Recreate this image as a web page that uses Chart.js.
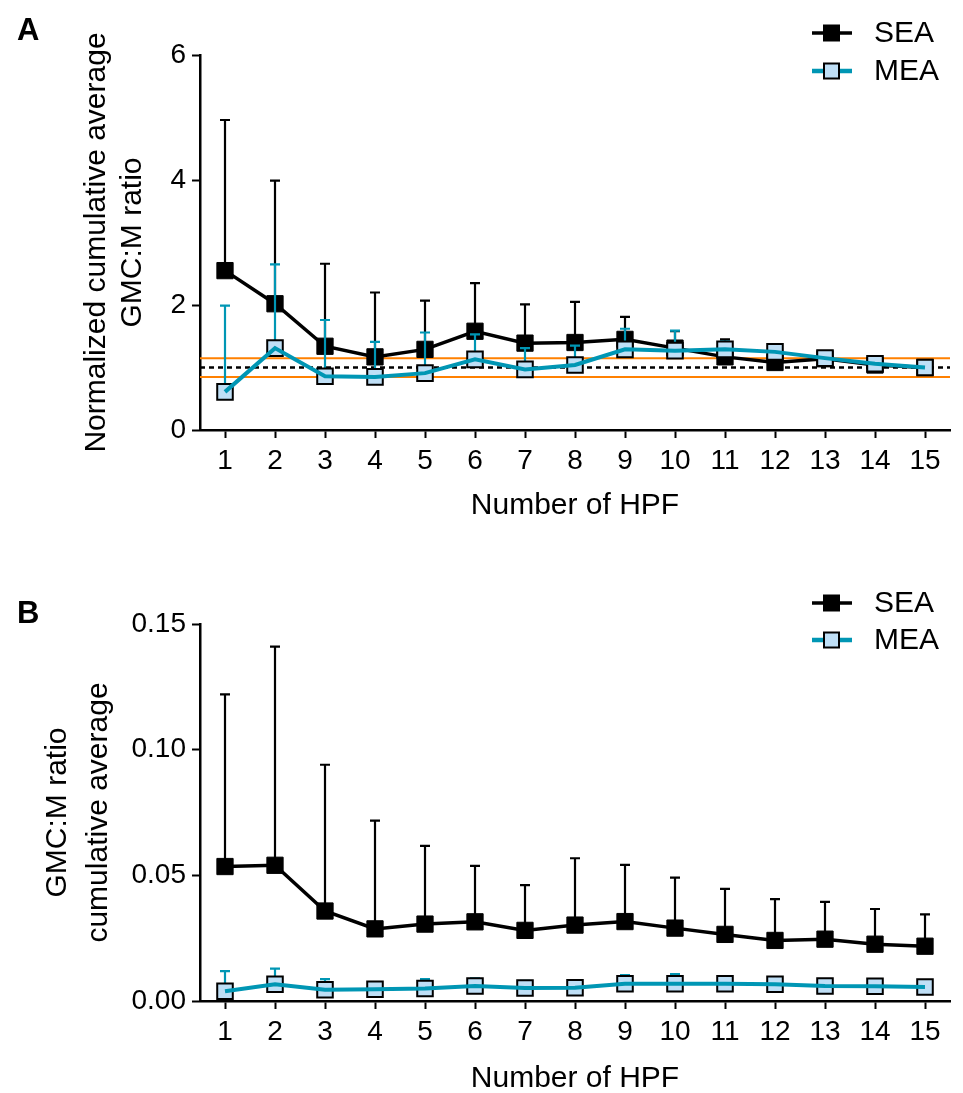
<!DOCTYPE html>
<html>
<head>
<meta charset="utf-8">
<script src="https://cdn.jsdelivr.net/npm/chart.js@4.4.0/dist/chart.umd.min.js"></script>
<style>
  html, body { margin: 0; padding: 0; background: #fff; overflow: hidden; }
  .panel { position: absolute; left: 0; width: 963px; }
  #panelA { top: 0; height: 540px; }
  #panelB { top: 540px; height: 570px; }
</style>
</head>
<body>
<div class="panel" id="panelA"><canvas id="chartA"></canvas></div>
<div class="panel" id="panelB"><canvas id="chartB"></canvas></div>
<script>
// x categories: number of high power fields
const hpf = [1, 2, 3, 4, 5, 6, 7, 8, 9, 10, 11, 12, 13, 14, 15];

// panel A: normalized cumulative average (mean and mean + SD)
const seaA      = [2.55, 2.02, 1.34, 1.17, 1.29, 1.58, 1.39, 1.40, 1.45, 1.31, 1.17, 1.08, 1.14, 1.04, 1.00];
const seaAUpper = [4.96, 3.99, 2.66, 2.20, 2.07, 2.35, 2.01, 2.05, 1.81, 1.58, 1.45, 1.12, 1.17, 1.06, 1.00];
const meaA      = [0.61, 1.31, 0.86, 0.85, 0.91, 1.13, 0.97, 1.04, 1.29, 1.27, 1.29, 1.25, 1.15, 1.06, 1.00];
const meaAUpper = [1.99, 2.65, 1.76, 1.41, 1.56, 1.53, 1.31, 1.35, 1.62, 1.59, 1.42, 1.33, 1.23, 1.09, 1.00];
const orangeLines = [0.85, 1.15];
const dashedLines = [1.0];

// panel B: cumulative average GMC:M ratio (mean and mean + SD)
const seaB      = [0.0535, 0.0540, 0.0358, 0.0287, 0.0306, 0.0315, 0.0281, 0.0302, 0.0316, 0.0290, 0.0265, 0.0241, 0.0246, 0.0226, 0.0218];
const seaBUpper = [0.122, 0.141, 0.094, 0.0718, 0.0617, 0.0538, 0.0461, 0.0568, 0.0542, 0.0491, 0.0446, 0.0405, 0.0394, 0.0366, 0.0345];
const meaB      = [0.0039, 0.0067, 0.0045, 0.0047, 0.0050, 0.0060, 0.0052, 0.0053, 0.0069, 0.0069, 0.0069, 0.0067, 0.0060, 0.0059, 0.0056];
const meaBUpper = [0.0119, 0.0129, 0.0087, 0.0073, 0.0087, 0.0090, 0.0080, 0.0083, 0.0103, 0.0107, 0.0099, 0.0090, 0.0087, 0.0076, 0.0076];

const yTicksA = [0, 2, 4, 6];
const yTicksB = [0, 0.05, 0.10, 0.15];
const yLabelsB = ['0.00', '0.05', '0.10', '0.15'];
const legendLabels = ['SEA', 'MEA'];

const BLACK = '#000000';
const TEAL = '#0096B4';
const LIGHT = '#BFDFF6';
const ORANGE = '#FF8000';
const FONT = 'Arial, "Liberation Sans", Helvetica, sans-serif';

const toPts = (vals) => hpf.map((x, i) => ({ x: x, y: vals[i] }));
const hLine = (v) => [{ x: 0.5, y: v }, { x: 15.5, y: v }];

// upward error bars, drawn just before their own dataset
const errorBars = {
  id: 'errorBars',
  beforeDatasetDraw(chart, args) {
    const ds = chart.data.datasets[args.index];
    if (!ds.upper) return;
    const { ctx, scales: { x, y } } = chart;
    ctx.save();
    ctx.strokeStyle = ds.errColor;
    ctx.lineWidth = 2.2;
    ds.data.forEach((p, i) => {
      const px = x.getPixelForValue(p.x);
      const y0 = y.getPixelForValue(p.y);
      const y1 = y.getPixelForValue(ds.upper[i]);
      ctx.beginPath();
      ctx.moveTo(px, y0);
      ctx.lineTo(px, y1);
      ctx.moveTo(px - 5, y1);
      ctx.lineTo(px + 5, y1);
      ctx.stroke();
    });
    ctx.restore();
  }
};

// panel letter and the little legend in the top right corner
const decorations = {
  id: 'decorations',
  afterDraw(chart, args, opts) {
    const ctx = chart.ctx;
    ctx.save();
    ctx.fillStyle = BLACK;
    ctx.font = 'bold 31px ' + FONT;
    ctx.textAlign = 'left';
    ctx.textBaseline = 'middle';
    ctx.fillText(opts.letter, opts.letterX, opts.letterY);

    const styles = [
      { line: BLACK, width: 3.5, fill: BLACK },
      { line: TEAL, width: 4.5, fill: LIGHT }
    ];
    legendLabels.forEach((label, i) => {
      const y = opts.legendY[i];
      const s = styles[i];
      ctx.strokeStyle = s.line;
      ctx.lineWidth = s.width;
      ctx.beginPath();
      ctx.moveTo(812, y);
      ctx.lineTo(852, y);
      ctx.stroke();
      ctx.fillStyle = s.fill;
      ctx.fillRect(824, y - 7.5, 15, 15);
      ctx.strokeStyle = BLACK;
      ctx.lineWidth = 2;
      ctx.strokeRect(824, y - 7.5, 15, 15);
      ctx.fillStyle = BLACK;
      ctx.font = '30px ' + FONT;
      ctx.fillText(label, 874, y + 1);
    });
    ctx.restore();
  }
};

function makeChart(id, cfg) {
  const datasets = [
    { label: 'MEA line', data: toPts(cfg.mea), borderColor: TEAL, borderWidth: 4,
      pointRadius: 0, order: 0 },
    { label: 'MEA', data: toPts(cfg.mea), upper: cfg.meaUpper, errColor: TEAL, showLine: false,
      pointStyle: 'rect', pointRadius: 11, pointBackgroundColor: LIGHT,
      pointBorderColor: BLACK, pointBorderWidth: 2, order: 1 },
    { label: 'SEA', data: toPts(cfg.sea), upper: cfg.seaUpper, errColor: BLACK,
      borderColor: BLACK, borderWidth: 3.5, pointStyle: 'rect', pointRadius: 11.5,
      pointBackgroundColor: BLACK, pointBorderColor: BLACK, pointBorderWidth: 1, order: 2 }
  ];
  (cfg.dashed || []).forEach(v => datasets.push({
    data: hLine(v), borderColor: BLACK, borderWidth: 2.5, borderDash: [5, 4],
    pointRadius: 0, order: 3
  }));
  (cfg.orange || []).forEach(v => datasets.push({
    data: hLine(v), borderColor: ORANGE, borderWidth: 2, pointRadius: 0, order: 4
  }));

  return new Chart(document.getElementById(id), {
    type: 'line',
    data: { datasets: datasets },
    plugins: [errorBars, decorations],
    options: {
      responsive: true,
      maintainAspectRatio: false,
      animation: false,
      events: [],
      layout: { padding: { top: cfg.top, right: 6, left: 0, bottom: 0 } },
      elements: { line: { tension: 0 } },
      plugins: {
        legend: { display: false },
        tooltip: { enabled: false },
        decorations: cfg.deco
      },
      scales: {
        x: {
          type: 'linear',
          min: 0.5,
          max: 15.5,
          afterFit: (s) => { s.height = cfg.xHeight; },
          afterBuildTicks: (s) => { s.ticks = hpf.map(v => ({ value: v })); },
          border: { display: true, color: BLACK, width: 2.5 },
          grid: { drawOnChartArea: false, drawTicks: true, tickLength: 8, tickWidth: 2, tickColor: BLACK },
          ticks: { color: BLACK, padding: 6, maxRotation: 0, autoSkip: false, font: { family: FONT, size: 28 } },
          title: {
            display: true, text: 'Number of HPF', color: BLACK,
            font: { family: FONT, size: 30, lineHeight: 1.2 },
            padding: { top: 0, bottom: cfg.xTitlePad }
          }
        },
        y: {
          min: cfg.yTicks[0],
          max: cfg.yTicks[cfg.yTicks.length - 1],
          afterFit: (s) => { s.width = 200; },
          afterBuildTicks: (s) => { s.ticks = cfg.yTicks.map(v => ({ value: v })); },
          border: { display: true, color: BLACK, width: 2.5 },
          grid: { drawOnChartArea: false, drawTicks: true, tickLength: 8, tickWidth: 2, tickColor: BLACK },
          ticks: {
            color: BLACK, padding: 6, font: { family: FONT, size: 28 },
            callback: (v, i) => cfg.yLabels ? cfg.yLabels[i] : String(v)
          },
          title: {
            display: true, text: cfg.yTitle, color: BLACK,
            font: { family: FONT, size: 30, lineHeight: cfg.yTitleLH },
            padding: { top: cfg.yTitlePad, bottom: 0 }
          }
        }
      }
    }
  });
}

makeChart('chartA', {
  sea: seaA, seaUpper: seaAUpper, mea: meaA, meaUpper: meaAUpper,
  dashed: dashedLines, orange: orangeLines,
  yTicks: yTicksA, yLabels: null,
  yTitle: ['Normalized cumulative average', 'GMC:M ratio'], yTitleLH: 1.2, yTitlePad: 79,
  top: 55, xHeight: 110, xTitlePad: 16,
  deco: { letter: 'A', letterX: 17, letterY: 31, legendY: [33, 71] }
});

makeChart('chartB', {
  sea: seaB, seaUpper: seaBUpper, mea: meaB, meaUpper: meaBUpper,
  yTicks: yTicksB, yLabels: yLabelsB,
  yTitle: ['GMC:M ratio', 'cumulative average'], yTitleLH: 1.37, yTitlePad: 37,
  top: 84, xHeight: 109, xTitlePad: 13,
  deco: { letter: 'B', letterX: 17, letterY: 74, legendY: [63, 100] }
});
</script>
</body>
</html>
